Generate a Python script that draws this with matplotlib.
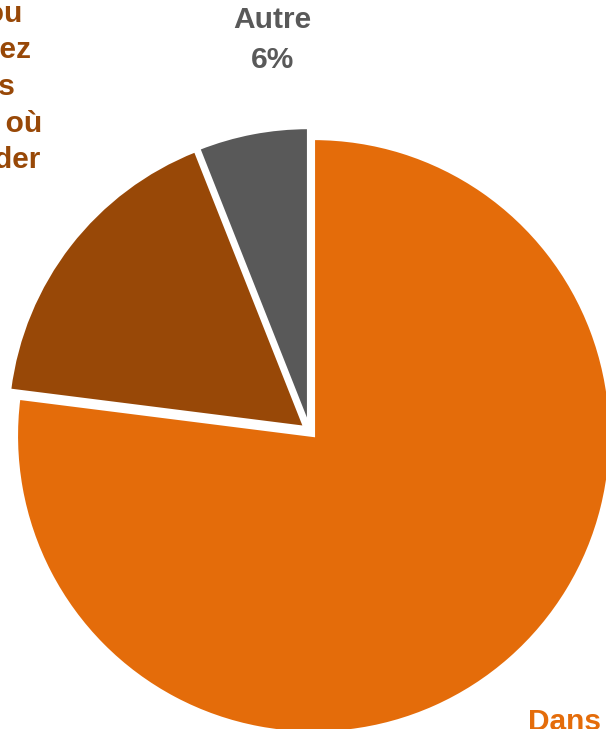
import matplotlib.pyplot as plt

# --- Data ---
categories = ["Dans un lieu public", "Chez vous ou chez des amis", "Autre"]
shares = [77, 17, 6]
colors = ["#E46C0A", "#984807", "#595959"]

# label lines (text only) -- the brown and orange labels run off the canvas
label_autre = ["Autre", "6%"]
label_brown = ["Chez vous ou", "chez un proche, chez", "des amis",
               "ou dans un lieu où", "vous pouvez regarder"]
label_orange = ["Dans un lieu public"]

W, H = 606, 729
fig = plt.figure(figsize=(W / 100, H / 100), dpi=100)
ax = fig.add_axes([0, 0, 1, 1])

# pie drawn in pixel-like data units (explode is in data units too)
cx, cy, R = 309.5, H - 431, 297
ax.pie(shares, colors=colors, startangle=90, counterclock=False,
       explode=[6.3] * len(shares), center=(cx, cy), radius=R,
       wedgeprops=dict(edgecolor="white", linewidth=2.0))

ax.set_xlim(0, W)
ax.set_ylim(0, H)
ax.set_aspect("equal")
ax.axis("off")

font = dict(family=["Liberation Sans", "DejaVu Sans"], fontweight="bold", fontsize=21.5)

# "Autre 6%"
for txt, base in zip(label_autre, [28, 68]):
    ax.text(272, H - base, txt, ha="center", va="baseline", color=colors[2], **font)

# brown label, mostly cut off at the left edge
right_ends = [22.5, 31, 15, 42, 40]
baselines = [21.5, 57.5, 95, 132, 168]
for txt, xr, base in zip(label_brown, right_ends, baselines):
    ax.text(xr, H - base, txt, ha="right", va="baseline", color=colors[1], **font)

# orange label, cut off at the bottom right
ax.text(528, H - 730, label_orange[0], ha="left", va="baseline", color=colors[0], **font)

fig.savefig("out.png", dpi=100)
